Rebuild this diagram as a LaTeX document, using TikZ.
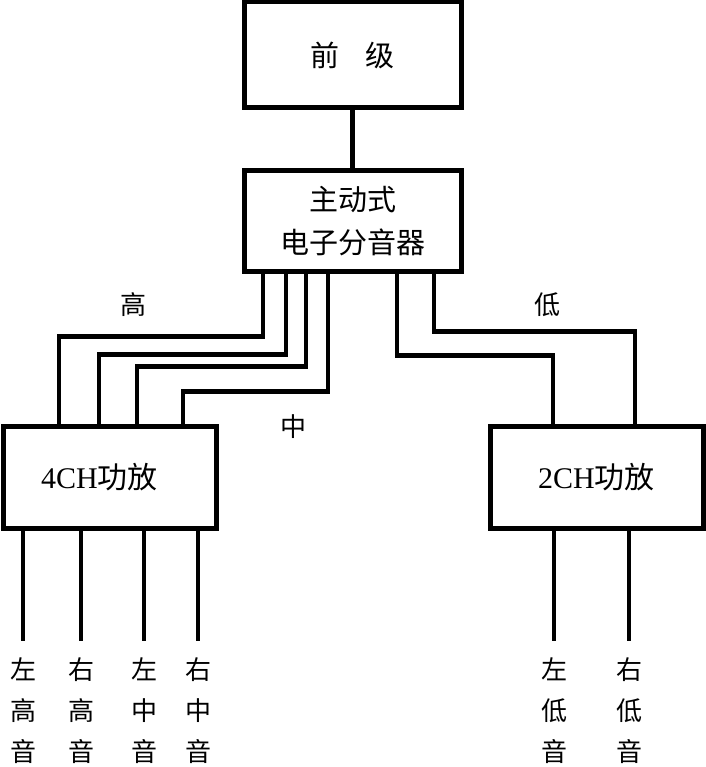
\documentclass[tikz,border=0pt]{standalone}
\usepackage{fontspec}
\setmainfont{Liberation Serif}
\newfontfamily\cjk{Noto Sans CJK SC}
\usetikzlibrary{positioning,calc}
\tikzset{
  blk/.style={draw,line width=5pt,minimum width=217pt,minimum height=106pt,inner sep=0pt,font=\cjk\fontsize{29}{43}\selectfont,align=center},
  amp/.style={draw,line width=5pt,minimum width=213pt,minimum height=102pt,inner sep=0pt,font=\fontsize{30}{36}\selectfont},
  wire/.style={line width=4.5pt},
  tag/.style={font=\cjk\fontsize{26}{30}\selectfont,inner sep=0pt},
  spk/.style={font=\cjk\fontsize{26}{41}\selectfont,align=center,anchor=north,inner xsep=0pt,inner ysep=16pt}
}
\begin{document}
\begin{tikzpicture}[x=1pt,y=-1pt]
\useasboundingbox (0,0) rectangle (705,767);
% boxes
\node[blk] (pre) at (352.5,55) {前\hspace{0.9em}级};
\node[blk,minimum height=100pt] (xover) at (352.5,221) {主动式\\电子分音器};
\node[amp] (amp4) at (109.5,477) {4CH{\cjk 功放}\hspace*{20pt}};
\node[amp] (amp2) at (596.5,477) {2CH{\cjk 功放}};
\draw[wire] (pre) -- (xover);
% high and mid to 4CH
\draw[wire] ([xshift=-89.5pt]xover.south) -- ++(0,63) -| ([xshift=-50.5pt]amp4.north);
\draw[wire] ([xshift=-66.5pt]xover.south) -- ++(0,81) -| ([xshift=-10.5pt]amp4.north);
\draw[wire] ([xshift=-46.5pt]xover.south) -- ++(0,93) -| ([xshift=27.5pt]amp4.north);
\draw[wire] ([xshift=-24.5pt]xover.south) -- ++(0,118) -| ([xshift=73.5pt]amp4.north);
% low to 2CH
\draw[wire] ([xshift=44.5pt]xover.south) -- ++(0,82) -| ([xshift=-43.5pt]amp2.north);
\draw[wire] ([xshift=81.5pt]xover.south) -- ++(0,58) -| ([xshift=38.5pt]amp2.north);
\node[tag] (thi) at (133,305) {高};
\node[tag] (tmid) at (293,427) {中};
\node[tag] (tlo) at (547,305) {低};
% speakers
\node[spk] (lhi) at (23,641) {左\\高\\音};
\node[spk] (rhi) at (81,641) {右\\高\\音};
\node[spk] (lmid) at (144,641) {左\\中\\音};
\node[spk] (rmid) at (198,641) {右\\中\\音};
\node[spk] (llo) at (554,641) {左\\低\\音};
\node[spk] (rlo) at (629,641) {右\\低\\音};
\foreach \n in {lhi,rhi,lmid,rmid} \draw[wire] (\n |- amp4.south) -- (\n);
\foreach \n in {llo,rlo} \draw[wire] (\n |- amp2.south) -- (\n);
\end{tikzpicture}
\end{document}
